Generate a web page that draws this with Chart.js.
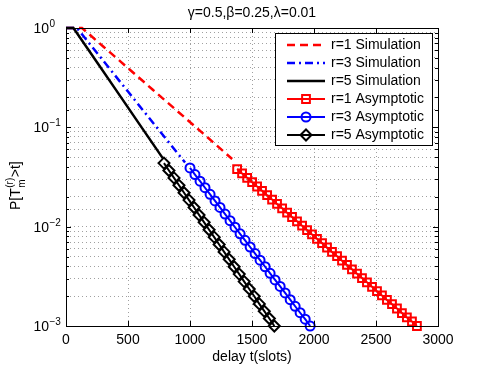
<!DOCTYPE html>
<html><head><meta charset="utf-8">
<script src="https://cdn.jsdelivr.net/npm/chart.js@4"></script>
<style>html,body{margin:0;padding:0;background:#fff}</style>
</head><body>
<canvas id="c" width="485" height="369"></canvas>
<script>
const titleText = 'γ=0.5,β=0.25,λ=0.01';
const xTitle = 'delay t(slots)';
const xTicks = [0, 500, 1000, 1500, 2000, 2500, 3000];
const yDecades = [1, 0.1, 0.01, 0.001];
const yExponents = ['0', '−1', '−2', '−3'];
const legendLabels = ['r=1 Simulation', 'r=3 Simulation', 'r=5 Simulation',
                      'r=1 Asymptotic', 'r=3 Asymptotic', 'r=5 Asymptotic'];

const sim1T = [0, 129, 300, 500, 700, 900, 1100, 1340];
const sim1P = [1, 1, 0.652, 0.395, 0.239, 0.145, 0.088, 0.048];
const sim3T = [0, 88, 300, 500, 700, 900, 960];
const sim3P = [1, 1, 0.469, 0.229, 0.112, 0.0548, 0.0443];
const sim5T = [0, 60, 200, 400, 600, 780];
const sim5P = [1, 1, 0.556, 0.241, 0.104, 0.049];

const asym1T = [1380,1420,1461,1501,1541,1581,1622,1662,1702,1743,1783,1823,1863,1904,1944,1984,2024,2065,2105,
                2145,2186,2226,2266,2306,2347,2387,2427,2468,2508,2548,2588,2629,2669,2709,2749,2790,2830];
const asym1P = [0.03802,0.03436,0.03106,0.02807,0.02538,0.02294,0.02074,0.01874,0.01694,0.01531,0.01384,0.01251,
                0.01131,0.01022,0.00924,0.00835,0.00755,0.00682,0.00617,0.00557,0.00504,0.00455,0.00412,0.00372,
                0.00336,0.00304,0.00275,0.00248,0.00224,0.00203,0.00183,0.00166,0.00150,0.00135,0.00122,0.00111,0.00100];
const asym3T = [1000,1040,1081,1121,1162,1202,1242,1283,1323,1363,1404,1444,1485,1525,1565,1606,1646,1686,1727,
                1767,1808,1848,1888,1929,1969];
const asym3P = [0.0390,0.03346,0.02873,0.02466,0.02118,0.01818,0.01561,0.01340,0.01150,0.00987,0.00848,0.00728,
                0.00624,0.00536,0.00460,0.00395,0.00339,0.00291,0.00250,0.00215,0.00184,0.00158,0.00136,0.00117,0.00100];
const asym5T = [790,830,871,911,952,992,1033,1073,1114,1154,1195,1235,1275,1316,1356,1397,1437,1478,1518,1559,
                1599,1640,1680];
const asym5P = [0.04365,0.03677,0.03097,0.02609,0.02197,0.01851,0.01559,0.01313,0.01106,0.00931,0.00784,0.00661,
                0.00557,0.00469,0.00395,0.00333,0.00280,0.00236,0.00199,0.00167,0.00141,0.00119,0.00100];

const FONT = '"Liberation Sans", Arial, Helvetica, sans-serif';
const RED = '#ff0000', BLUE = '#0000ff', BLACK = '#000000';

function pts(T, P) { return T.map((t, i) => ({x: t, y: P[i]})); }

const styles = [
  {color: RED, dash: [8, 5], width: 2.5, marker: null},
  {color: BLUE, dash: [8, 4, 2, 4], width: 2.5, marker: null},
  {color: BLACK, dash: [], width: 2.5, marker: null},
  {color: RED, dash: [], width: 2, marker: 'rect', radius: 5.5},
  {color: BLUE, dash: [], width: 2, marker: 'circle', radius: 4.5},
  {color: BLACK, dash: [], width: 2, marker: 'rectRot', radius: 5.5}
];
const series = [pts(sim1T, sim1P), pts(sim3T, sim3P), pts(sim5T, sim5P),
                pts(asym1T, asym1P), pts(asym3T, asym3P), pts(asym5T, asym5P)];

const datasets = series.map((d, i) => {
  const s = styles[i];
  return {
    label: legendLabels[i],
    data: d,
    order: 5 - i,
    borderColor: s.color,
    borderWidth: s.width,
    borderDash: s.dash,
    fill: false,
    tension: 0,
    clip: false,
    pointRadius: s.marker ? s.radius : 0,
    pointStyle: s.marker || 'circle',
    pointBorderColor: s.color,
    pointBackgroundColor: 'rgba(0,0,0,0)',
    pointBorderWidth: 2
  };
});

function isDecade(v) { const l = Math.log10(v); return Math.abs(l - Math.round(l)) < 1e-6; }

const overlay = {
  id: 'overlay',
  afterDraw(chart) {
    const ctx = chart.ctx, a = chart.chartArea, xs = chart.scales.x, ys = chart.scales.y;
    ctx.save();
    ctx.setLineDash([]);
    ctx.strokeStyle = '#000'; ctx.lineWidth = 1;
    ctx.beginPath();
    ys.ticks.forEach(t => {
      const y = Math.round(ys.getPixelForValue(t.value)) + 0.5;
      const len = isDecade(t.value) ? 5 : 3;
      ctx.moveTo(a.left, y); ctx.lineTo(a.left + len, y);
      ctx.moveTo(a.right, y); ctx.lineTo(a.right - len, y);
    });
    xTicks.forEach(v => {
      const x = Math.round(xs.getPixelForValue(v)) + 0.5;
      ctx.moveTo(x, a.bottom); ctx.lineTo(x, a.bottom - 5);
      ctx.moveTo(x, a.top); ctx.lineTo(x, a.top + 5);
    });
    ctx.stroke();
    ctx.strokeRect(Math.round(a.left) + 0.5, Math.round(a.top) + 0.5,
                   Math.round(a.right - a.left), Math.round(a.bottom - a.top));

    ctx.fillStyle = '#000';
    yDecades.forEach((v, i) => {
      const y = ys.getPixelForValue(v);
      ctx.font = '14px ' + FONT;
      ctx.textAlign = 'right'; ctx.textBaseline = 'alphabetic';
      ctx.fillText('10', 49, y + 5);
      ctx.font = '10px ' + FONT;
      ctx.textAlign = 'left';
      ctx.fillText(yExponents[i], 49.5, y - 1);
    });

    ctx.font = '14px ' + FONT;
    ctx.textAlign = 'center'; ctx.textBaseline = 'alphabetic';
    ctx.fillText(titleText, (a.left + a.right) / 2, 17);
    ctx.fillText(xTitle, (a.left + a.right) / 2, 361);

    ctx.save();
    ctx.translate(20, 210);
    ctx.rotate(-Math.PI / 2);
    ctx.textAlign = 'left';
    ctx.font = '14px ' + FONT;
    let x = 0;
    ctx.fillText('P[T', x, 0); x += ctx.measureText('P[T').width + 0.5;
    ctx.font = '10px ' + FONT;
    ctx.fillText('(r)', x, -7);
    const w1 = ctx.measureText('(r)').width;
    ctx.fillText('m', x, 5);
    const w2 = ctx.measureText('m').width;
    x += Math.max(w1, w2) + 0.5;
    ctx.font = '14px ' + FONT;
    ctx.fillText('>t]', x, 0);
    ctx.restore();

    const L = 275, T = 33, R = 432, B = 145;
    ctx.fillStyle = '#fff';
    ctx.fillRect(L, T, R - L, B - T);
    ctx.strokeStyle = '#000'; ctx.lineWidth = 1;
    ctx.strokeRect(L + 0.5, T + 0.5, R - L, B - T);
    legendLabels.forEach((lab, i) => {
      const s = styles[i];
      const y = 45 + i * 18;
      ctx.save();
      ctx.strokeStyle = s.color; ctx.lineWidth = s.width;
      ctx.setLineDash(s.dash);
      ctx.beginPath(); ctx.moveTo(287, y); ctx.lineTo(325, y); ctx.stroke();
      ctx.setLineDash([]);
      if (s.marker) {
        ctx.lineWidth = 2;
        ctx.fillStyle = 'rgba(0,0,0,0)';
        Chart.helpers.drawPoint(ctx, {pointStyle: s.marker, radius: s.radius, rotation: 0, borderWidth: 2}, 306, y);
      }
      ctx.restore();
      ctx.fillStyle = '#000';
      ctx.font = '14px ' + FONT;
      ctx.textAlign = 'left'; ctx.textBaseline = 'middle';
      ctx.fillText(lab, 331, y + 0.5);
    });
    ctx.restore();
  }
};

new Chart(document.getElementById('c'), {
  type: 'line',
  data: {datasets},
  options: {
    responsive: false,
    animation: false,
    devicePixelRatio: 1,
    layout: {padding: {top: 28, right: 47, left: 0, bottom: 0}},
    plugins: {legend: {display: false}, tooltip: {enabled: false}, title: {display: false}},
    scales: {
      x: {
        type: 'linear', min: 0, max: 3000,
        afterBuildTicks(s) { s.ticks = xTicks.map(v => ({value: v})); },
        afterFit(s) { s.height = 43; },
        grid: {color: '#a0a0a0', lineWidth: 1, drawTicks: false},
        border: {display: false, dash: [1, 3]},
        ticks: {color: '#000', font: {family: FONT, size: 14}, padding: 6, maxRotation: 0,
                callback: v => String(v)}
      },
      y: {
        type: 'logarithmic', min: 0.001, max: 1,
        afterFit(s) { s.width = 66; },
        grid: {color: '#a0a0a0', lineWidth: 1, drawTicks: false},
        border: {display: false, dash: [1, 3]},
        ticks: {display: false}
      }
    }
  },
  plugins: [overlay]
});
</script>
</body></html>
